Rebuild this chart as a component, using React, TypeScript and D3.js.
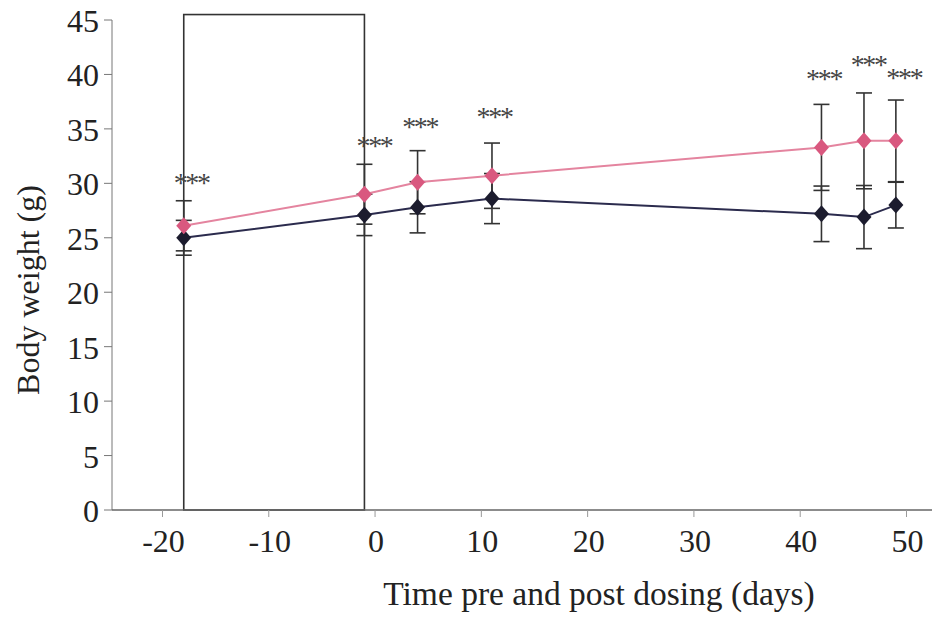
import React from "react";
import * as d3 from "d3";

const days = [-18, -1, 4, 11, 42, 46, 49];
const treatedMean = [26.1, 29.0, 30.1, 30.7, 33.3, 33.9, 33.9];
const treatedSD = [2.3, 2.75, 2.9, 3.0, 3.95, 4.4, 3.75];
const controlMean = [25.0, 27.1, 27.8, 28.6, 27.2, 26.9, 28.0];
const controlSD = [1.6, 1.9, 2.35, 2.3, 2.55, 2.9, 2.1];
const sigLabel = ["***", "***", "***", "***", "***", "***", "***"];
const sigDay = [-17.3, -0.1, 4.2, 11.2, 42.2, 46.4, 49.75];
const sigLevel = [30.6, 34.0, 35.7, 36.6, 40.1, 41.4, 40.2];
const xTicks = [-20, -10, 0, 10, 20, 30, 40, 50];
const yTicks = [0, 5, 10, 15, 20, 25, 30, 35, 40, 45];
const dosingWindow = [-18, -1];
const dosingTop = 45.5;

const W = 932;
const H = 619;
const FONT = "'Liberation Serif', 'Times New Roman', serif";

export default function App() {
  const x = d3.scaleLinear().domain([-24.75, 52.4]).range([112, 932]);
  const y = d3.scaleLinear().domain([0, 45]).range([510, 20]);

  const series = [
    { mean: controlMean, sd: controlSD, line: "#2b2b4d", fill: "#1c1c2e" },
    { mean: treatedMean, sd: treatedSD, line: "#e4849f", fill: "#d9587f" },
  ];

  const lineGen = (vals: number[]) =>
    d3
      .line<number>()
      .x((_, i) => x(days[i]))
      .y((v) => y(v))(vals) || "";

  const diamond = (cx: number, cy: number) =>
    `M${cx},${cy - 8.5}L${cx + 7.5},${cy}L${cx},${cy + 8.5}L${cx - 7.5},${cy}Z`;

  const x0 = x.range()[0];
  const y0 = y(0);

  return (
    <svg
      width={W}
      height={H}
      style={{ position: "absolute", left: 0, top: 0, background: "#fff" }}
    >
      {/* dosing window box */}
      <rect
        x={x(dosingWindow[0])}
        y={y(dosingTop)}
        width={x(dosingWindow[1]) - x(dosingWindow[0])}
        height={y(0) - y(dosingTop)}
        fill="none"
        stroke="#333"
        strokeWidth={1.6}
      />

      {/* axes */}
      <line x1={x0} x2={x0} y1={y(45)} y2={y0} stroke="#777" strokeWidth={1} />
      <line x1={x0} x2={W} y1={y0} y2={y0} stroke="#666" strokeWidth={1.3} />
      {yTicks.map((t) => (
        <g key={"y" + t}>
          <line x1={x0 - 8} x2={x0} y1={y(t)} y2={y(t)} stroke="#777" strokeWidth={1} />
          <text
            x={99}
            y={y(t) + 12}
            textAnchor="end"
            fontFamily={FONT}
            fontSize={32}
            fill="#222"
          >
            {t}
          </text>
        </g>
      ))}
      {xTicks.map((t) => (
        <g key={"x" + t}>
          <line x1={x(t)} x2={x(t)} y1={y0} y2={y0 + 7} stroke="#999" strokeWidth={1} />
          <text
            x={x(t) + 1}
            y={552}
            textAnchor="middle"
            fontFamily={FONT}
            fontSize={32}
            fill="#222"
          >
            {t}
          </text>
        </g>
      ))}

      <text
        x={599}
        y={605}
        textAnchor="middle"
        fontFamily={FONT}
        fontSize={33.5}
        fill="#222"
      >
        Time pre and post dosing (days)
      </text>
      <text
        transform={`translate(39,290) rotate(-90)`}
        textAnchor="middle"
        fontFamily={FONT}
        fontSize={32}
        fill="#222"
      >
        Body weight (g)
      </text>

      {/* error bars */}
      {series.map((s, si) =>
        days.map((d, i) => {
          const cx = x(d);
          const hi = y(s.mean[i] + s.sd[i]);
          const lo = y(s.mean[i] - s.sd[i]);
          return (
            <g key={`e${si}-${i}`} stroke="#333" strokeWidth={1.6}>
              <line x1={cx} x2={cx} y1={hi} y2={lo} />
              <line x1={cx - 8} x2={cx + 8} y1={hi} y2={hi} />
              <line x1={cx - 8} x2={cx + 8} y1={lo} y2={lo} />
            </g>
          );
        })
      )}

      {/* lines */}
      {series.map((s, si) => (
        <path key={"l" + si} d={lineGen(s.mean)} fill="none" stroke={s.line} strokeWidth={2} />
      ))}

      {/* markers */}
      {series.map((s, si) =>
        days.map((d, i) => (
          <path key={`m${si}-${i}`} d={diamond(x(d), y(s.mean[i]))} fill={s.fill} />
        ))
      )}

      {/* significance */}
      {sigDay.map((d, i) => (
        <text
          key={"s" + i}
          x={x(d)}
          y={y(sigLevel[i]) + 15}
          textAnchor="middle"
          fontFamily={FONT}
          fontSize={28}
          letterSpacing={-2.3}
          fill="#444"
        >
          {sigLabel[i]}
        </text>
      ))}
    </svg>
  );
}
